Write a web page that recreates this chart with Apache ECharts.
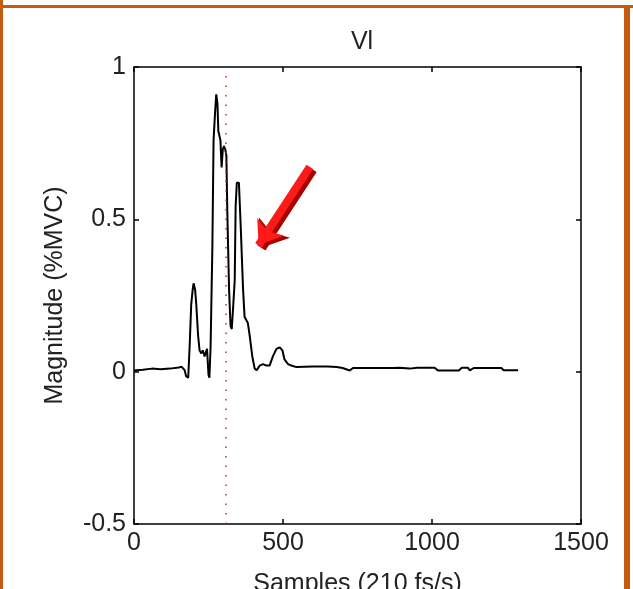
<!DOCTYPE html>
<html>
<head>
<meta charset="utf-8">
<script src="https://cdn.jsdelivr.net/npm/echarts@6/dist/echarts.min.js"></script>
<style>
html,body{margin:0;padding:0;background:#fff;}
#chart{width:633px;height:589px;}
</style>
</head>
<body>
<div id="chart"></div>
<script>
// ---- data ----
const chartTitle = 'Vl';
const xAxisName = 'Samples (210 fs/s)';
const yAxisName = 'Magnitude (%MVC)';
const xTicks = [0, 500, 1000, 1500];
const yTicks = [-0.5, 0, 0.5, 1];
const samples = [0, 30, 60, 90, 120, 150, 160, 170, 175, 182, 187, 192, 197, 200, 205, 209, 215, 220, 226, 231, 237, 245, 250, 253, 257, 263, 267, 272, 276, 280, 283, 290, 294, 298, 302, 306, 310, 313, 319, 324, 328, 332, 338, 341, 345, 352, 358, 366, 371, 382, 388, 397, 405, 412, 422, 433, 444, 455, 466, 478, 489, 498, 505, 517, 528, 545, 600, 650, 680, 700, 724, 735, 800, 869, 875, 890, 925, 950, 1009, 1020, 1090, 1100, 1120, 1127, 1140, 1233, 1240, 1289];
const magnitude = [0.004, 0.006, 0.01, 0.008, 0.01, 0.014, 0.016, 0.005, -0.015, -0.02, 0.09, 0.22, 0.27, 0.29, 0.27, 0.22, 0.12, 0.07, 0.06, 0.07, 0.05, 0.075, -0.01, -0.02, 0.08, 0.41, 0.76, 0.85, 0.91, 0.88, 0.79, 0.76, 0.67, 0.73, 0.74, 0.73, 0.71, 0.53, 0.27, 0.15, 0.14, 0.2, 0.3, 0.54, 0.62, 0.62, 0.48, 0.27, 0.18, 0.16, 0.12, 0.05, 0.01, 0.005, 0.02, 0.025, 0.02, 0.02, 0.05, 0.075, 0.08, 0.07, 0.04, 0.025, 0.02, 0.015, 0.017, 0.017, 0.015, 0.012, 0.004, 0.012, 0.012, 0.012, 0.006, 0.013, 0.01, 0.013, 0.013, 0.004, 0.004, 0.013, 0.013, 0.004, 0.012, 0.012, 0.005, 0.005];
const markerSample = 308;
const arrowTail = [590, 0.672];
const arrowTip = [418, 0.415];

// ---- chart ----
const chart = echarts.init(document.getElementById('chart'), null, {renderer: 'canvas'});
const font = 'Liberation Sans';
const fs = 25;
const lineData = samples.map((s, i) => [s, magnitude[i]]);
const axisBase = {
  axisLine: {show: true, onZero: false, lineStyle: {color: '#000', width: 1.5}},
  axisTick: {show: true, inside: true, length: 5, lineStyle: {color: '#000', width: 1.5}},
  splitLine: {show: false}
};
chart.setOption({
  backgroundColor: '#fff',
  animation: false,
  title: {text: chartTitle, left: 357, textAlign: 'center', top: 25,
    textStyle: {fontFamily: font, fontWeight: 'normal', fontSize: fs, color: '#222'}},
  grid: {left: 134, right: 52, top: 67, bottom: 65, containLabel: false, outerBoundsMode: 'none',
    show: true, backgroundColor: '#fff', borderWidth: 0},
  xAxis: [
    Object.assign({}, axisBase, {type: 'value', min: xTicks[0], max: xTicks[xTicks.length - 1], interval: 500, position: 'bottom',
      name: xAxisName, nameLocation: 'middle', nameGap: 48,
      nameTextStyle: {fontFamily: font, fontSize: fs, color: '#222'},
      axisLabel: {fontFamily: font, fontSize: fs, color: '#222', margin: 7, formatter: v => String(v)}}),
    Object.assign({}, axisBase, {type: 'value', min: xTicks[0], max: xTicks[xTicks.length - 1], interval: 500, position: 'top',
      axisLabel: {show: false}})
  ],
  yAxis: [
    Object.assign({}, axisBase, {type: 'value', min: yTicks[0], max: yTicks[yTicks.length - 1], interval: 0.5, position: 'left',
      name: yAxisName, nameLocation: 'middle', nameGap: 66,
      nameTextStyle: {fontFamily: font, fontSize: fs, color: '#222'},
      axisLabel: {fontFamily: font, fontSize: fs, color: '#222', margin: 8, formatter: v => String(v)}}),
    Object.assign({}, axisBase, {type: 'value', min: yTicks[0], max: yTicks[yTicks.length - 1], interval: 0.5, position: 'right',
      axisLabel: {show: false}})
  ],
  graphic: [
    {type: 'rect', shape: {x: 0, y: 0, width: 3, height: 589}, style: {fill: '#C55A11'}},
    {type: 'rect', shape: {x: 0, y: 5, width: 633, height: 3}, style: {fill: '#C55A11'}},
    {type: 'rect', shape: {x: 624, y: 5, width: 6, height: 584}, style: {fill: '#C55A11'}}
  ],
  series: [{
    type: 'line',
    data: lineData,
    showSymbol: false,
    lineStyle: {color: '#000', width: 2},
    markLine: {
      silent: true,
      animation: false,
      label: {show: false},
      data: [
        [{coord: [markerSample, yTicks[0]], symbol: 'none', lineStyle: {color: '#b03030', width: 1.5, type: [1.5, 8]}},
         {coord: [markerSample, yTicks[yTicks.length - 1]], symbol: 'none'}],
        [{coord: [arrowTail[0] + 9, arrowTail[1] - 0.008], symbol: 'none', lineStyle: {color: '#a80000', width: 10, type: 'solid'}},
         {coord: [arrowTip[0] + 9, arrowTip[1] - 0.008], symbol: 'arrow', symbolSize: [28, 24]}],
        [{coord: arrowTail, symbol: 'none', lineStyle: {color: '#ff1a1a', width: 8, type: 'solid'}},
         {coord: arrowTip, symbol: 'arrow', symbolSize: [24, 22]}]
      ]
    }
  }]
});
</script>
</body>
</html>
